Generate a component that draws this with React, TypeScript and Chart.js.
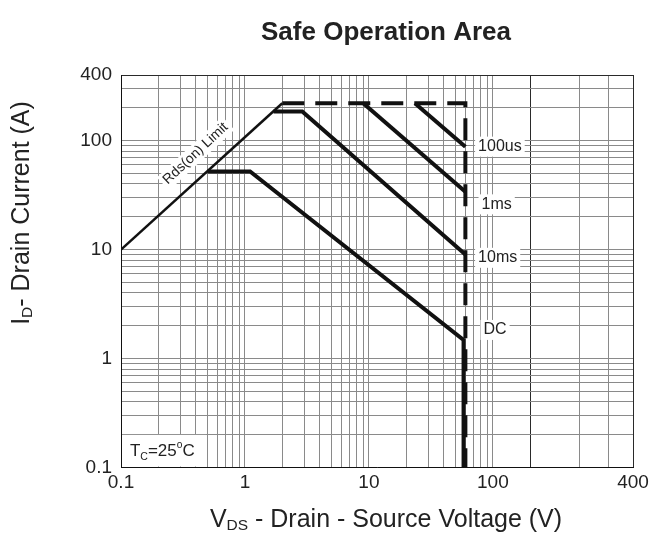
import React, { useEffect, useRef } from 'react';
import { Chart, registerables } from 'chart.js';

Chart.register(...registerables);

const FONT = '"Liberation Sans", Arial, Helvetica, sans-serif';

// axis ranges (right frame edge of the original figure is labelled "400")
const X_MIN = 0.1;
const X_MAX = 1350;
const Y_MIN = 0.1;
const Y_MAX = 400;

// grid lines
const xGridValues = [0.1, 0.2, 0.3, 0.4, 0.5, 0.6, 0.7, 0.8, 0.9, 1, 2, 3, 4, 5, 6, 7, 8, 9, 10, 20, 30, 40, 50, 60, 70, 80, 90, 100, 200, 500, 860, X_MAX];
const yGridValues = [0.1, 0.2, 0.3, 0.4, 0.5, 0.6, 0.7, 0.8, 0.9, 1, 2, 3, 4, 5, 6, 7, 8, 9, 10, 20, 30, 40, 50, 60, 70, 80, 90, 100, 200, 300, 400];

// tick labels
const xLabelValues = [0.1, 1, 10, 100, X_MAX];
const xLabelTexts = ['0.1', '1', '10', '100', '400'];
const yLabelValues = [0.1, 1, 10, 100, 400];
const yLabelTexts = ['0.1', '1', '10', '100', '400'];

// curves: VDS (V) / ID (A)
const rdsV = [0.1, 2];
const rdsI = [10, 220];
const limitV = [2, 60, 60];
const limitI = [220, 220, 0.1];
const us100V = [23.5, 60];
const us100I = [220, 88];
const ms1V = [9, 60];
const ms1I = [220, 34];
const ms10V = [1.7, 2.9, 60];
const ms10I = [185, 185, 9];
const dcV = [0.5, 1.1, 58, 58];
const dcI = [52, 52, 1.48, 0.1];

// curve labels (anchored in data space)
const curveLabelNames = ['100us', '1ms', '10ms', 'DC'];
const curveLabelV = [76, 81, 76, 84];
const curveLabelI = [88, 26, 8.4, 1.83];

const toPts = (vs: number[], is: number[]) => vs.map((v, i) => ({ x: v, y: is[i] }));

type Part = [string, number, number]; // text, size factor, baseline shift factor

function drawRich(ctx: CanvasRenderingContext2D, parts: Part[], size: number, cx: number, cy: number, weight = 'normal', align: 'center' | 'left' = 'center') {
  let total = 0;
  const widths = parts.map(([t, f]) => {
    ctx.font = `${weight} ${size * f}px ${FONT}`;
    const w = ctx.measureText(t).width;
    total += w;
    return w;
  });
  let x = align === 'center' ? cx - total / 2 : cx;
  ctx.textAlign = 'left';
  ctx.textBaseline = 'alphabetic';
  parts.forEach(([t, f, dy], i) => {
    ctx.font = `${weight} ${size * f}px ${FONT}`;
    ctx.fillText(t, x, cy + size * 0.36 + dy * size);
    x += widths[i];
  });
  return total;
}

const textPlugin = {
  id: 'soaText',
  beforeDatasetsDraw(chart: any) {
    const ctx: CanvasRenderingContext2D = chart.ctx;
    const xs = chart.scales.x;
    const ys = chart.scales.y;
    const area = chart.chartArea;
    ctx.save();
    // curve labels with white boxes
    ctx.font = `16px ${FONT}`;
    ctx.textBaseline = 'middle';
    ctx.textAlign = 'left';
    curveLabelNames.forEach((name, i) => {
      const px = xs.getPixelForValue(curveLabelV[i]);
      const py = ys.getPixelForValue(curveLabelI[i]);
      const w = ctx.measureText(name).width;
      ctx.fillStyle = '#fff';
      ctx.fillRect(px - 3, py - 10, w + 6, 20);
      ctx.fillStyle = '#222';
      ctx.fillText(name, px, py);
    });
    // Rds(on) Limit label
    {
      const px = xs.getPixelForValue(0.4);
      const py = ys.getPixelForValue(76);
      ctx.translate(px, py);
      ctx.rotate((-43 * Math.PI) / 180);
      ctx.font = `14px ${FONT}`;
      const w = ctx.measureText('Rds(on) Limit').width;
      ctx.fillStyle = '#fff';
      ctx.fillRect(-w / 2 - 3, -9, w + 6, 18);
      ctx.fillStyle = '#222';
      ctx.textAlign = 'center';
      ctx.fillText('Rds(on) Limit', 0, 0);
      ctx.setTransform(1, 0, 0, 1, 0, 0);
    }
    // Tc label
    {
      const px = xs.getPixelForValue(0.118);
      const py = ys.getPixelForValue(0.145);
      ctx.fillStyle = '#fff';
      ctx.fillRect(area.left + 1, py - 15, px - area.left + 75, area.bottom - py + 14);
      ctx.fillStyle = '#222';
      drawRich(ctx, [['T', 1, 0], ['C', 0.62, 0.22], ['=25', 1, 0], ['o', 0.6, -0.45], ['C', 1, 0]], 17, px, py, 'normal', 'left');
    }
    ctx.restore();
  },
  afterDraw(chart: any) {
    const ctx: CanvasRenderingContext2D = chart.ctx;
    ctx.save();
    ctx.fillStyle = '#222';
    drawRich(ctx, [['Safe Operation Area', 1, 0]], 26, 386, 31, 'bold');
    drawRich(ctx, [['V', 1, 0], ['DS', 0.62, 0.1], [' - Drain - Source Voltage (V)', 1, 0]], 25, 386, 518);
    ctx.translate(20, 213);
    ctx.rotate(-Math.PI / 2);
    drawRich(ctx, [['I', 1, 0], ['D', 0.62, 0.1], ['- Drain Current (A)', 1, 0]], 25, 0, 0);
    ctx.restore();
  },
};

const xGridColor = (c: any) => {
  const v = c.tick ? c.tick.value : null;
  if (v === 200 || v === X_MAX) return '#2a2a2a';
  return '#8a8a8a';
};
const yGridColor = (c: any) => {
  const v = c.tick ? c.tick.value : null;
  if (v === Y_MAX) return '#2a2a2a';
  return '#8a8a8a';
};

export default function App() {
  const ref = useRef<HTMLCanvasElement>(null);
  useEffect(() => {
    if (!ref.current) return;
    const line = (data: { x: number; y: number }[], width: number, dash: number[] = []) => ({
      data,
      borderColor: '#111',
      borderWidth: width,
      borderDash: dash,
      pointRadius: 0,
      tension: 0,
      fill: false,
      borderCapStyle: 'butt' as const,
      borderJoinStyle: 'miter' as const,
    });
    const chart = new Chart(ref.current, {
      type: 'line',
      data: {
        datasets: [
          line(toPts(rdsV, rdsI), 2.5),
          line(toPts(limitV, limitI), 4, [22, 11]),
          line(toPts(us100V, us100I), 4),
          line(toPts(ms1V, ms1I), 4),
          line(toPts(ms10V, ms10I), 4),
          line(toPts(dcV, dcI), 4),
        ],
      },
      options: {
        animation: false,
        responsive: false,
        maintainAspectRatio: false,
        layout: { padding: { top: 75, right: 20, left: 0, bottom: 0 } },
        plugins: { legend: { display: false }, tooltip: { enabled: false }, title: { display: false } },
        scales: {
          x: {
            type: 'logarithmic',
            min: X_MIN,
            max: X_MAX,
            afterBuildTicks: (s: any) => {
              s.ticks = xGridValues.map((v) => ({ value: v }));
            },
            afterFit: (s: any) => {
              s.height = 74.5;
            },
            ticks: {
              autoSkip: false,
              maxRotation: 0,
              padding: 4,
              color: '#222',
              font: { family: FONT, size: 19 },
              callback: (v: any) => {
                const k = xLabelValues.indexOf(Number(v));
                return k >= 0 ? xLabelTexts[k] : '';
              },
            },
            grid: { color: xGridColor, lineWidth: 1, drawTicks: false },
            border: { color: '#111', width: 1 },
          },
          y: {
            type: 'logarithmic',
            min: Y_MIN,
            max: Y_MAX,
            afterBuildTicks: (s: any) => {
              s.ticks = yGridValues.map((v) => ({ value: v }));
            },
            afterFit: (s: any) => {
              s.width = 121;
            },
            ticks: {
              autoSkip: false,
              padding: 9,
              color: '#222',
              font: { family: FONT, size: 19 },
              callback: (v: any) => {
                const k = yLabelValues.indexOf(Number(v));
                return k >= 0 ? yLabelTexts[k] : '';
              },
            },
            grid: { color: yGridColor, lineWidth: 1, drawTicks: false },
            border: { color: '#111', width: 1 },
          },
        },
      },
      plugins: [textPlugin],
    });
    return () => chart.destroy();
  }, []);
  return (
    <div style={{ position: 'fixed', left: 0, top: 0, width: 653, height: 542, background: '#fff' }}>
      <canvas ref={ref} width={653} height={542} style={{ width: 653, height: 542 }} />
    </div>
  );
}
